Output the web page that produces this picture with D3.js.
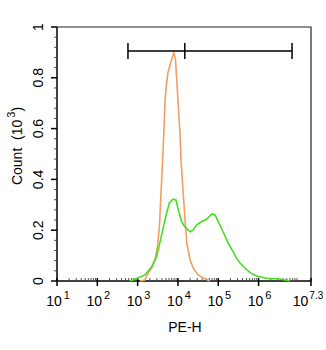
<!DOCTYPE html>
<html><head><meta charset="utf-8">
<script src="https://cdn.jsdelivr.net/npm/d3@7"></script>
<style>body{margin:0;background:#fff}svg{display:block}text{font-family:"Liberation Sans",Arial,sans-serif;fill:#000}</style>
</head><body><svg id="c" width="326" height="350"></svg>
<script>
// log10 of PE-H and count (10^3)
const orangeLog = [3.06,3.18,3.26,3.35,3.43,3.49,3.54,3.58,3.62,3.66,3.68,3.72,3.75,3.84,3.90,3.94,3.97,4.01,4.05,4.08,4.13,4.17,4.22,4.30,4.38,4.50,4.63,4.79];
const orangeCount = [0,0.004,0.031,0.051,0.083,0.134,0.213,0.346,0.476,0.622,0.713,0.780,0.819,0.870,0.898,0.870,0.791,0.685,0.583,0.465,0.346,0.252,0.150,0.083,0.051,0.024,0.012,0];
const greenLog = [2.81,2.93,3.18,3.35,3.47,3.55,3.64,3.72,3.79,3.88,3.95,4.01,4.09,4.17,4.30,4.38,4.46,4.59,4.71,4.84,4.92,5.00,5.12,5.25,5.37,5.45,5.54,5.66,5.79,5.95,6.20,6.53,6.78];
const greenCount = [0,0.007,0.024,0.056,0.096,0.150,0.214,0.268,0.308,0.322,0.319,0.280,0.234,0.214,0.194,0.201,0.220,0.234,0.243,0.264,0.260,0.234,0.194,0.148,0.115,0.090,0.071,0.051,0.033,0.020,0.011,0.008,0];
const gateLog = [2.76, 4.17, 6.83];
const yTicks = [0,0.2,0.4,0.6,0.8,1];
const yTickLabels = ["0","0.2","0.4","0.6","0.8","1"];
const xTickExps = ["1","2","3","4","5","6","7.3"];
const xTickLogs = [1,2,3,4,5,6,7.3];

const svg = d3.select("#c");
const L=57,R=311,T=27,B=281;
const x = d3.scaleLinear().domain([1,7.3]).range([L,R]);
const y = d3.scaleLinear().domain([0,1]).range([B,T]);

// frame
svg.append("path").attr("d",`M${L},${T}H${R}V${B}`).attr("fill","none").attr("stroke","#222").attr("stroke-width",1.2);
svg.append("line").attr("x1",L).attr("x2",L).attr("y1",T).attr("y2",B).attr("stroke","#000").attr("stroke-width",1.5);
svg.append("line").attr("x1",L).attr("x2",R).attr("y1",B).attr("y2",B).attr("stroke","#000").attr("stroke-width",1.5);

// y minor ticks
const yMinor = d3.range(0,1.0001,0.04).filter(v=>!yTicks.some(t=>Math.abs(t-v)<1e-6));
svg.selectAll(".ymin").data(yMinor).join("line").attr("x1",L-3).attr("x2",L).attr("y1",d=>y(d)).attr("y2",d=>y(d)).attr("stroke","#555").attr("stroke-width",1);
svg.selectAll(".ymaj").data(yTicks).join("line").attr("x1",L-6).attr("x2",L).attr("y1",d=>y(d)).attr("y2",d=>y(d)).attr("stroke","#000").attr("stroke-width",1.5);
svg.selectAll(".ylab").data(yTicks).join("text").attr("transform",d=>`translate(43,${y(d)}) rotate(-90)`).attr("text-anchor","middle").attr("font-size",14).text((d,i)=>yTickLabels[i]);

// x minor ticks
const xMinor=[];
for(let dcd=1;dcd<7.3;dcd++){for(let k=2;k<=9;k++){const v=dcd+Math.log10(k); if(v<7.3) xMinor.push(v);}}
svg.selectAll(".xmin").data(xMinor).join("line").attr("x1",d=>x(d)).attr("x2",d=>x(d)).attr("y1",B-3).attr("y2",B).attr("stroke","#555").attr("stroke-width",1);
svg.selectAll(".xmaj").data(xTickLogs).join("line").attr("x1",d=>x(d)).attr("x2",d=>x(d)).attr("y1",B-3).attr("y2",B+5).attr("stroke","#000").attr("stroke-width",1.5);
const xl = svg.selectAll(".xlab").data(xTickLogs).join("text").attr("x",(d,i)=>x(d)+(i===xTickLogs.length-1?-3:1)).attr("y",306).attr("text-anchor","middle").attr("font-size",14);
xl.append("tspan").text("10");
xl.append("tspan").attr("dx",(d,i)=>i===xTickLogs.length-1?1:2).attr("dy",-7).attr("font-size",(d,i)=>i===xTickLogs.length-1?10:11).text((d,i)=>xTickExps[i]);

// axis titles
svg.append("text").attr("x",185).attr("y",332).attr("text-anchor","middle").attr("font-size",14).text("PE-H");
const yt = svg.append("text").attr("transform",`translate(22,146) rotate(-90)`).attr("text-anchor","middle").attr("font-size",14);
yt.append("tspan").text("Count\u00a0 (10");
yt.append("tspan").attr("dx",2).attr("dy",-7).attr("font-size",11).text("3");
yt.append("tspan").attr("dy",7).text(")");

// curves
const line = d3.line().x(d=>x(d[0])).y(d=>y(d[1])).curve(d3.curveLinear);
svg.append("path").datum(orangeLog.map((v,i)=>[v,orangeCount[i]])).attr("d",line).attr("fill","none").attr("stroke","#f0a060").attr("stroke-width",1.6);
svg.append("path").datum(greenLog.map((v,i)=>[v,greenCount[i]])).attr("d",line).attr("fill","none").attr("stroke","#44dd22").attr("stroke-width",1.6);

// gate
const gy=51;
svg.append("line").attr("x1",x(gateLog[0])).attr("x2",x(gateLog[2])).attr("y1",gy).attr("y2",gy).attr("stroke","#000").attr("stroke-width",1.5);
svg.selectAll(".gt").data(gateLog).join("line").attr("x1",d=>x(d)).attr("x2",d=>x(d)).attr("y1",gy-8).attr("y2",gy+8).attr("stroke","#000").attr("stroke-width",1.5);
</script></body></html>
